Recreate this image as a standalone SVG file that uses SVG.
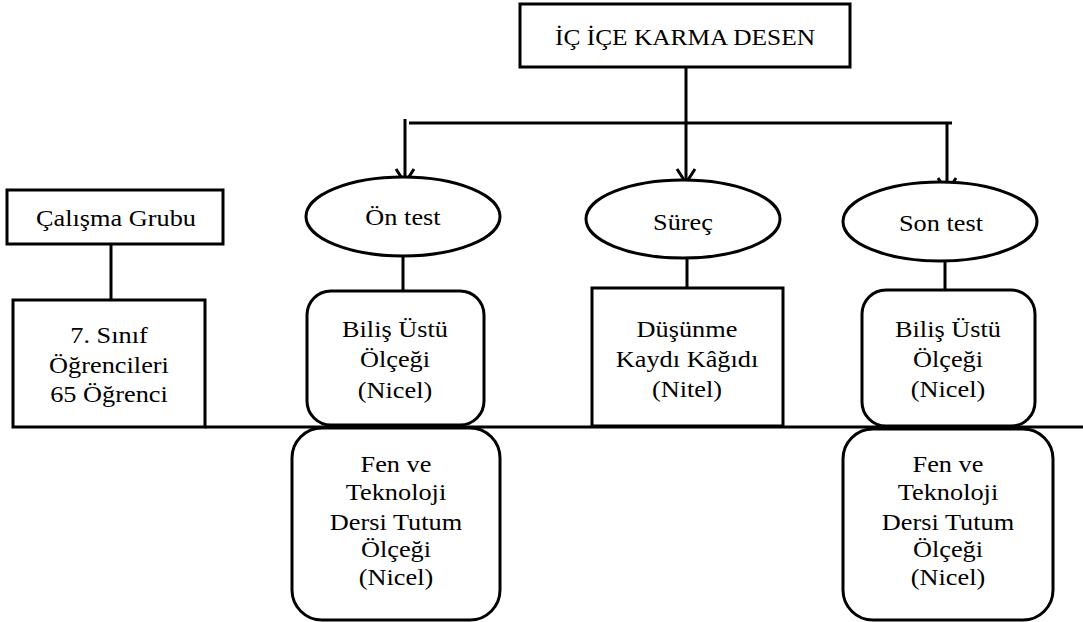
<svg xmlns="http://www.w3.org/2000/svg" width="1083" height="622" viewBox="0 0 1083 622">
<style>
.s{fill:#fff;stroke:#000;stroke-width:3}
.l{fill:none;stroke:#000;stroke-width:3}
</style>
<rect width="1083" height="622" fill="#fff"/>
<g id="connectors">
<line class="l" x1="686" y1="67" x2="686" y2="183"/>
<line class="l" x1="409" y1="123" x2="952" y2="123"/>
<line class="l" x1="405" y1="119" x2="405" y2="183"/>
<line class="l" x1="947" y1="123" x2="947" y2="192"/>
<polyline class="l" points="396,169 405,183 414,169"/>
<polyline class="l" points="677,169 686,183 695,169"/>
<polyline class="l" points="938,178 947,192 956,178"/>
<line class="l" x1="111" y1="244" x2="111" y2="300"/>
<line class="l" x1="403" y1="256" x2="403" y2="291"/>
<line class="l" x1="687" y1="258" x2="687" y2="288"/>
<line class="l" x1="945" y1="261" x2="945" y2="291"/>
<line class="l" x1="205" y1="427" x2="1083" y2="427"/>
</g>
<g font-family="Liberation Serif, Times New Roman, serif" font-size="23.5" fill="#000" text-anchor="middle">
<g id="title">
<rect class="s" x="520" y="4" width="330" height="63"/>
<text transform="translate(685 45) scale(1.08 1)">İÇ İÇE KARMA DESEN</text>
</g>
<g id="calisma">
<rect class="s" x="7" y="190" width="216" height="54"/>
<text transform="translate(116 226) scale(1.12 1)">Çalışma Grubu</text>
</g>
<g id="ogrenci">
<rect class="s" x="13" y="300" width="192" height="127"/>
<text transform="translate(109 343) scale(1.12 1)">7. Sınıf</text>
<text transform="translate(109 373) scale(1.12 1)">Öğrencileri</text>
<text transform="translate(109 402) scale(1.12 1)">65 Öğrenci</text>
</g>
<g id="ontest">
<ellipse class="s" cx="403" cy="216.5" rx="97" ry="39.5"/>
<text transform="translate(403 225) scale(1.12 1)">Ön test</text>
</g>
<g id="surec">
<ellipse class="s" cx="683" cy="219" rx="97" ry="39"/>
<text transform="translate(683 230) scale(1.12 1)">Süreç</text>
</g>
<g id="sontest">
<ellipse class="s" cx="940" cy="221.5" rx="97" ry="39.5"/>
<text transform="translate(941 231) scale(1.12 1)">Son test</text>
</g>
<g id="bilis1">
<rect class="s" x="307" y="291" width="177" height="134" rx="24"/>
<text transform="translate(395 337) scale(1.12 1)">Biliş Üstü</text>
<text transform="translate(395 367) scale(1.12 1)">Ölçeği</text>
<text transform="translate(395 398) scale(1.12 1)">(Nicel)</text>
</g>
<g id="fen1">
<rect class="s" x="292" y="428" width="208" height="192" rx="30"/>
<text transform="translate(396 472) scale(1.12 1)">Fen ve</text>
<text transform="translate(396 500) scale(1.12 1)">Teknoloji</text>
<text transform="translate(396 530) scale(1.12 1)">Dersi Tutum</text>
<text transform="translate(396 557) scale(1.12 1)">Ölçeği</text>
<text transform="translate(396 585) scale(1.12 1)">(Nicel)</text>
</g>
<g id="dusunme">
<rect class="s" x="592" y="288" width="191" height="138"/>
<text transform="translate(687 337) scale(1.12 1)">Düşünme</text>
<text transform="translate(687 367) scale(1.12 1)">Kaydı Kâğıdı</text>
<text transform="translate(687 397) scale(1.12 1)">(Nitel)</text>
</g>
<g id="bilis2">
<rect class="s" x="862" y="290" width="173" height="136" rx="24"/>
<text transform="translate(948 337) scale(1.12 1)">Biliş Üstü</text>
<text transform="translate(948 367) scale(1.12 1)">Ölçeği</text>
<text transform="translate(948 397) scale(1.12 1)">(Nicel)</text>
</g>
<g id="fen2">
<rect class="s" x="843" y="429" width="210" height="191" rx="30"/>
<text transform="translate(948 472) scale(1.12 1)">Fen ve</text>
<text transform="translate(948 500) scale(1.12 1)">Teknoloji</text>
<text transform="translate(948 530) scale(1.12 1)">Dersi Tutum</text>
<text transform="translate(948 557) scale(1.12 1)">Ölçeği</text>
<text transform="translate(948 585) scale(1.12 1)">(Nicel)</text>
</g>
</g>
</svg>
